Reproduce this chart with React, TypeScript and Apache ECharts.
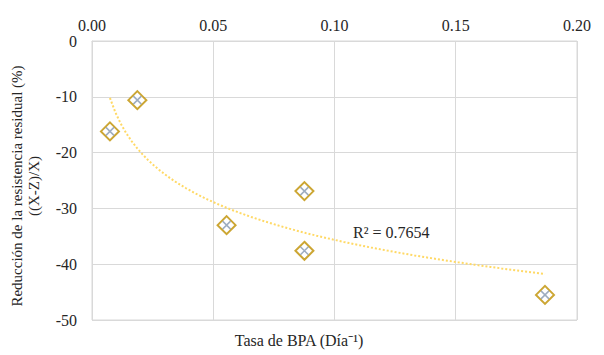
import React, { useEffect, useRef } from "react";
import * as echarts from "echarts";

const xValues = [0.0074, 0.0187, 0.0555, 0.0876, 0.0876, 0.1868];
const yValues = [-16.2, -10.6, -33.0, -26.9, -37.6, -45.5];
const xTicks = { min: 0, max: 0.2, interval: 0.05 };
const yTicks = { min: -50, max: 0, interval: 10 };
const r2Label = "R² = 0.7654";
const xTitle = "Tasa de BPA (Día⁻¹)";
const yTitle = "Reducción de la resistencia residual (%)\n((X-Z)/X)";

// logarithmic least-squares trendline (like Excel's) from the data
function logFit(xs: number[], ys: number[]) {
  const lx = xs.map((v) => Math.log(v));
  const n = xs.length;
  const mx = lx.reduce((a, b) => a + b, 0) / n;
  const my = ys.reduce((a, b) => a + b, 0) / n;
  let sxy = 0;
  let sxx = 0;
  for (let i = 0; i < n; i++) {
    sxy += (lx[i] - mx) * (ys[i] - my);
    sxx += (lx[i] - mx) * (lx[i] - mx);
  }
  const a = sxy / sxx;
  const b = my - a * mx;
  return (x: number) => a * Math.log(x) + b;
}

const FONT = "'Liberation Serif', 'Times New Roman', serif";
const TXT = "#262626";
const GRID = "#D9D9D9";

export default function App() {
  const ref = useRef<HTMLDivElement>(null);
  useEffect(() => {
    if (!ref.current) return;
    const chart = echarts.init(ref.current, undefined, { renderer: "svg" });
    const f = logFit(xValues, yValues);
    const xmin = Math.min(...xValues);
    const xmax = Math.max(...xValues);
    const steps = 80;
    const trend: number[][] = [];
    for (let i = 0; i <= steps; i++) {
      const x = xmin + ((xmax - xmin) * i) / steps;
      trend.push([x, f(x)]);
    }
    const pts = xValues.map((x, i) => [x, yValues[i]]);
    chart.setOption({
      animation: false,
      backgroundColor: "#fff",
      grid: { left: 92, right: 27, top: 41, bottom: 35, show: true, borderColor: GRID, borderWidth: 1 },
      xAxis: {
        type: "value",
        position: "top",
        min: xTicks.min,
        max: xTicks.max,
        interval: xTicks.interval,
        axisLine: { show: true, lineStyle: { color: GRID } },
        axisTick: { show: false },
        splitLine: { show: true, lineStyle: { color: GRID, width: 1 } },
        axisLabel: {
          formatter: (v: number) => v.toFixed(2),
          fontSize: 16,
          fontFamily: FONT,
          color: TXT,
          margin: 8,
        },
      },
      yAxis: {
        type: "value",
        min: yTicks.min,
        max: yTicks.max,
        interval: yTicks.interval,
        axisLine: { show: true, lineStyle: { color: GRID } },
        axisTick: { show: false },
        splitLine: { show: true, lineStyle: { color: GRID, width: 1 } },
        axisLabel: { fontSize: 16, fontFamily: FONT, color: TXT, margin: 15 },
      },
      graphic: [
        {
          type: "text",
          x: 25,
          y: 186,
          rotation: Math.PI / 2,
          style: {
            text: yTitle,
            fontSize: 15,
            fontFamily: FONT,
            fill: TXT,
            align: "center",
            verticalAlign: "middle",
            lineHeight: 17,
          },
        },
        {
          type: "text",
          x: 299,
          y: 340,
          style: {
            text: xTitle,
            fontSize: 16,
            fontFamily: FONT,
            fill: TXT,
            align: "center",
            verticalAlign: "middle",
          },
        },
        {
          type: "text",
          x: 353,
          y: 232,
          style: {
            text: r2Label,
            fontSize: 16,
            fontFamily: FONT,
            fill: TXT,
            align: "left",
            verticalAlign: "middle",
          },
        },
      ],
      series: [
        {
          type: "line",
          data: trend,
          showSymbol: false,
          symbol: "none",
          smooth: false,
          lineStyle: { color: "#FFD966", width: 2, type: [2, 2] },
          z: 1,
        },
        {
          type: "scatter",
          data: pts,
          symbol: "diamond",
          symbolSize: 18,
          itemStyle: { color: "#FFFFFF", borderColor: "#BF9000", borderWidth: 2 },
          z: 2,
        },
        {
          type: "scatter",
          data: pts,
          symbol: "path://M0,0L10,10M10,0L0,10",
          symbolSize: 8,
          itemStyle: { color: "transparent", borderColor: "#8497B0", borderWidth: 1.5 },
          z: 3,
        },
      ],
    });
    return () => chart.dispose();
  }, []);
  return (
    <div
      ref={ref}
      style={{ position: "absolute", left: 0, top: 0, width: 604, height: 355 }}
    />
  );
}
